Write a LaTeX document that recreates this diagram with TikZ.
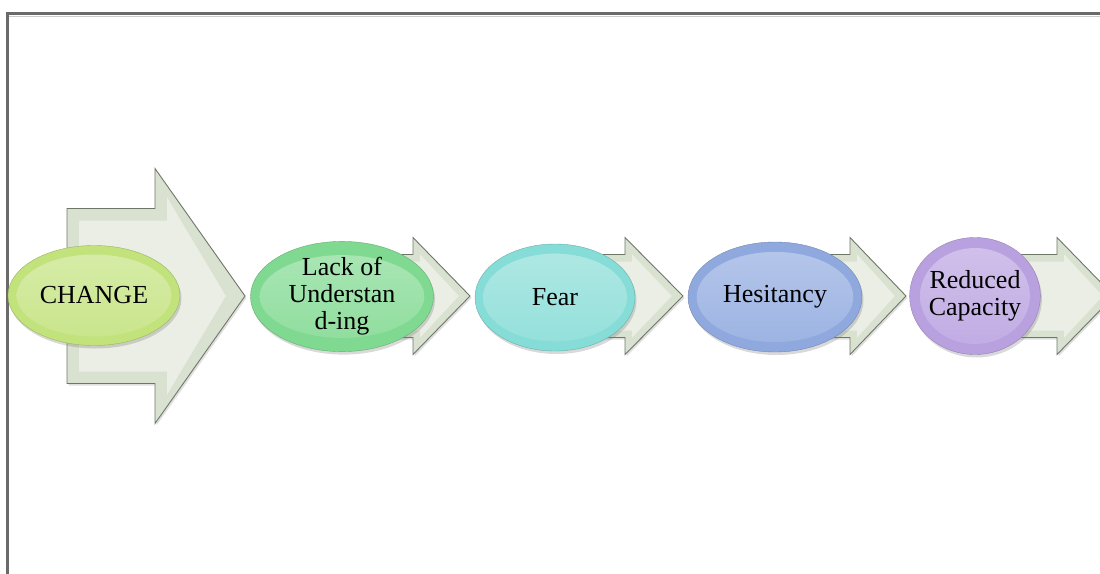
\documentclass[tikz,border=0pt]{standalone}
\usepackage{fontspec}
\setmainfont{Liberation Serif}
\usetikzlibrary{shapes.geometric,shadows}

\definecolor{framecol}{HTML}{6A6A6A}
\definecolor{arrowcol}{HTML}{D9E1D0}
\definecolor{arrowline}{HTML}{6E7668}
\definecolor{changecol}{HTML}{C2E27C}
\definecolor{lackcol}{HTML}{80D990}
\definecolor{fearcol}{HTML}{86DCD6}
\definecolor{hesicol}{HTML}{8FA9DF}
\definecolor{redcol}{HTML}{B9A1E0}

% x0 body start, x1 head base, x2 tip, body half, head half, bevel
\newcommand\flowarrow[6]{%
  \draw[arrowshape] (#1,{296-#4}) -- (#2,{296-#4}) -- (#2,{296-#5}) -- (#3,296)
    -- (#2,{296+#5}) -- (#2,{296+#4}) -- (#1,{296+#4}) -- cycle;
  \fill[arrowface] ({#1+#6},{296-#4+#6}) -- ({#2+#6},{296-#4+#6}) -- ({#2+#6},{296-#5+2.4*#6})
    -- ({#3-1.6*#6},296) -- ({#2+#6},{296+#5-2.4*#6}) -- ({#2+#6},{296+#4-#6})
    -- ({#1+#6},{296+#4-#6}) -- cycle;
}

\begin{document}
\begin{tikzpicture}[x=1pt,y=-1pt,
    arrowshape/.style={fill=arrowcol,draw=arrowline,line width=0.9pt,
      drop shadow={shadow xshift=1.5pt,shadow yshift=-2pt,opacity=0.25}},
    arrowface/.style={fill=arrowcol!55!white},
    stage/.style n args={3}{ellipse,draw=#1!80!black,line width=0.4pt,fill=#1,
      minimum width=#2,minimum height=#3,inner sep=0pt,align=center,
      font=\fontsize{26}{27}\selectfont,
      drop shadow={shadow xshift=1.5pt,shadow yshift=-3pt,opacity=0.3},
      path picture={\shade[top color=#1!65!white,bottom color=#1!90!white]
        (path picture bounding box.center) ellipse[x radius=0.45*#2,y radius=0.41*#3];}}]
  \useasboundingbox (0,0) rectangle (1100,573);
  \clip (0,0) rectangle (1100,573);

  % frame
  \draw[framecol!35!white,line width=1.2pt] (9,16.2) -- (1110,16.2);
  \draw[framecol,line width=2.2pt] (7.5,600) |- (1110,13.5);

  % arrows behind the stages
  \flowarrow{67}{155}{245}{87.5}{127.5}{12}
  \flowarrow{342}{413}{470}{41.5}{58.5}{7}
  \flowarrow{555}{625}{683}{41.5}{58.5}{7}
  \flowarrow{775}{850}{906}{41.5}{58.5}{7}
  \flowarrow{976}{1057}{1114}{41.5}{58.5}{7}

  % stages
  \node[stage={changecol}{172}{100}] (change) at (94,295.5) {CHANGE};
  \node[stage={lackcol}{183}{101}] (lack) at (342,296.5) {Lack of\\Understan\\d-ing};
  \node[stage={fearcol}{160}{107}] (fear) at (555,297.5) {Fear};
  \node[stage={hesicol}{174}{110}] (hesi) at (775,297) {Hesitancy};
  \node[stage={redcol}{122}{117}] (reduced) at (975,296) {Reduced\\Capacity};
\end{tikzpicture}
\end{document}
